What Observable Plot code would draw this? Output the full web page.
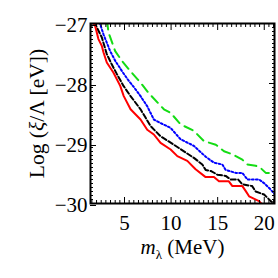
<!DOCTYPE html>
<html><head><meta charset="utf-8">
<script src="https://cdn.jsdelivr.net/npm/d3@7"></script>
<script src="https://cdn.jsdelivr.net/npm/@observablehq/plot@0.6"></script>
<style>body{margin:0;background:#fff;}</style>
</head><body><div id="chart"></div>
<script>
// Tick labels
const xMajorTicks = [5, 10, 15, 20];
const yMajorTicks = [-27, -28, -29, -30];
const xTitle = "mλ (MeV)";
const yTitle = "Log (ξ/Λ [eV])";

// Series: red solid
const redMass = [1.6, 1.85, 2.2, 2.56, 2.74, 3.1, 3.82, 4.54, 4.92, 5.65, 6.72, 7.44, 8.15, 8.87, 9.95, 10.67, 11.74, 12.63, 13.71, 14.6, 15.14, 16.2, 16.58, 17.65, 18.0, 18.37, 19.44, 19.8];
const redLog  = [-26.98, -27.04, -27.26, -27.37, -27.48, -27.65, -27.82, -28.04, -28.21, -28.43, -28.6, -28.77, -28.85, -28.99, -29.1, -29.21, -29.29, -29.43, -29.56, -29.56, -29.63, -29.63, -29.71, -29.71, -29.79, -29.88, -29.96, -30.02];
// black dashed
const blackMass = [1.7, 1.85, 2.56, 3.1, 3.63, 4.17, 4.89, 5.65, 6.72, 7.8, 8.87, 10.3, 11.38, 12.45, 13.35, 13.71, 14.3, 14.97, 15.86, 16.4, 17.2, 17.65, 18.7, 19.08, 19.98, 20.7, 21.2];
const blackLog  = [-26.98, -27.01, -27.23, -27.51, -27.68, -27.84, -28.04, -28.21, -28.43, -28.71, -28.88, -29.02, -29.13, -29.24, -29.35, -29.44, -29.46, -29.52, -29.54, -29.6, -29.6, -29.68, -29.71, -29.8, -29.85, -29.96, -30.02];
// blue dotted
const blueMass = [2.3, 2.38, 2.74, 3.1, 3.46, 4.0, 4.71, 5.43, 6.0, 6.72, 7.44, 8.15, 8.87, 9.95, 11.02, 12.45, 13.71, 14.6, 15.5, 15.86, 16.94, 17.65, 18.19, 19.44, 19.98, 20.7, 21.2];
const blueLog  = [-26.98, -27.01, -27.18, -27.32, -27.46, -27.62, -27.79, -27.95, -28.06, -28.21, -28.38, -28.6, -28.66, -28.74, -28.93, -29.04, -29.22, -29.32, -29.35, -29.44, -29.49, -29.49, -29.6, -29.6, -29.66, -29.77, -29.86];
// green dashed
const greenMass = [3.1, 3.17, 3.28, 4.0, 4.71, 5.61, 6.69, 7.6, 9.23, 9.95, 11.02, 12.45, 13.52, 14.8, 15.68, 16.58, 17.65, 18.19, 19.08, 19.62, 20.16, 21.2];
const greenLog  = [-26.95, -27.01, -27.15, -27.46, -27.62, -27.79, -27.98, -28.16, -28.43, -28.49, -28.68, -28.79, -28.96, -29.02, -29.13, -29.18, -29.27, -29.35, -29.37, -29.41, -29.49, -29.49];

const toRows = (xs, ys) => xs.map((x, i) => ({x, y: ys[i]}));
const xMinorTicks = d3.range(1.5, 21.01, 0.5).filter(v => !xMajorTicks.includes(v));
const yMinorTicks = d3.range(0, 46).map(i => -30 + i / 15).filter(v => Math.abs(v - Math.round(v)) > 1e-6);

const serif = "'Liberation Serif', 'Times New Roman', serif";
const chart = Plot.plot({
  width: 278, height: 278,
  marginLeft: 90, marginRight: 4, marginTop: 23, marginBottom: 75,
  style: {fontFamily: serif, fontSize: "21px", background: "white", color: "black"},
  x: {domain: [1.35, 21.1]},
  y: {domain: [-30, -27]},
  marks: [
    Plot.line(toRows(greenMass, greenLog), {x: "x", y: "y", stroke: "#14dc14", strokeWidth: 2, strokeDasharray: "9,6", clip: true}),
    Plot.line(toRows(blueMass, blueLog), {x: "x", y: "y", stroke: "#0000ff", strokeWidth: 2, strokeDasharray: "1.8,2.2", clip: true}),
    Plot.line(toRows(blackMass, blackLog), {x: "x", y: "y", stroke: "#000000", strokeWidth: 2, strokeDasharray: "5,2.5", clip: true}),
    Plot.line(toRows(redMass, redLog), {x: "x", y: "y", stroke: "#ff0000", strokeWidth: 2, clip: true}),
    Plot.axisX(xMinorTicks, {anchor: "bottom", tickSize: -3, tickFormat: () => "", label: null}),
    Plot.axisX(xMinorTicks, {anchor: "top", tickSize: -3, tickFormat: () => "", label: null}),
    Plot.axisX(xMajorTicks, {anchor: "top", tickSize: -6, tickFormat: () => "", label: null}),
    Plot.axisX(xMajorTicks, {anchor: "bottom", tickSize: -6, tickPadding: 18, fontSize: 21, tickFormat: d => String(d), label: null}),
    Plot.axisY(yMinorTicks, {anchor: "left", tickSize: -3, tickFormat: () => "", label: null}),
    Plot.axisY(yMinorTicks, {anchor: "right", tickSize: -3, tickFormat: () => "", label: null}),
    Plot.axisY(yMajorTicks, {anchor: "right", tickSize: -6, tickFormat: () => "", label: null}),
    Plot.axisY(yMajorTicks, {anchor: "left", tickSize: -6, tickPadding: 9, dy: 2, fontSize: 21, tickFormat: d => "\u2212" + Math.abs(d), label: null}),
    Plot.frame({strokeWidth: 2}),
    Plot.text([xTitle], {text: d => d, frameAnchor: "bottom", dy: 44, fontSize: 21, lineAnchor: "middle", textAnchor: "middle"}),
    Plot.text([yTitle], {text: d => d, frameAnchor: "left", dx: -53, rotate: -90, fontSize: 21.5, lineAnchor: "middle", textAnchor: "middle"})
  ]
});

const svg = d3.select(chart);
svg.selectAll("text").filter(function() { return this.textContent === xTitle; }).each(function() {
  const t = d3.select(this).text(null);
  t.append("tspan").attr("font-style", "italic").text("m");
  t.append("tspan").attr("font-size", "13px").attr("dy", 5).text("λ");
  t.append("tspan").attr("dy", -5).text(" (MeV)");
});
svg.selectAll("text").filter(function() { return this.textContent === yTitle; }).each(function() {
  const t = d3.select(this).text(null);
  t.append("tspan").text("Log (");
  t.append("tspan").attr("font-style", "italic").text("ξ");
  t.append("tspan").text("/Λ [eV])");
});
document.getElementById("chart").appendChild(chart);
</script>
</body></html>
